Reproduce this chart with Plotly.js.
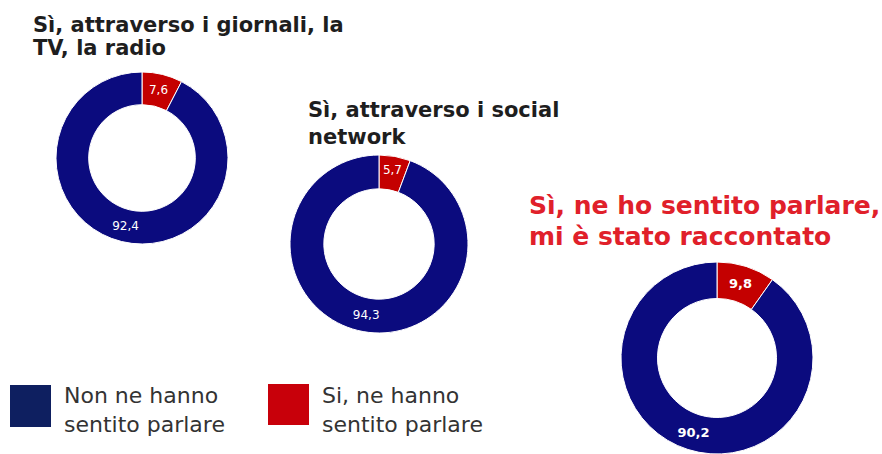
<!DOCTYPE html>
<html>
<head>
<meta charset="utf-8">
<script src="https://cdn.plot.ly/plotly-3.0.1.min.js"></script>
<style>html,body{margin:0;padding:0;background:#fff;}#chart{width:882px;height:454px;}</style>
</head>
<body>
<div id="chart"></div>
<script>
// ---- data ----
const categories = ["Si, ne hanno sentito parlare", "Non ne hanno sentito parlare"];
const siValues = [7.6, 5.7, 9.8];
const nonValues = [92.4, 94.3, 90.2];
const donutTitles = [
  ["Sì, attraverso i giornali, la", "TV, la radio"],
  ["Sì, attraverso i social", "network"],
  ["Sì, ne ho sentito parlare,", "mi è stato raccontato"]
];
const legendLabels = [
  ["Non ne hanno", "sentito parlare"],
  ["Si, ne hanno", "sentito parlare"]
];

// ---- styles / geometry ----
const W = 882, H = 454;
const RED = "#c40000", NAVY = "#0b0b7e";
const legendColors = ["#0e1f60", "#c8000a"];
// donut boxes in pixels: [cx, cy, r]
const donutGeo = [[142, 158, 86], [379, 244, 89], [717, 358, 96]];
const labelFonts = [
  {family: "DejaVu Sans", size: 12, color: "#ffffff"},
  {family: "DejaVu Sans", size: 12, color: "#ffffff"},
  {family: "DejaVu Sans", size: 13, color: "#ffffff", weight: "bold"}
];
const titleGeo = [[31, 25, 48], [306, 110, 137], [527, 205, 236]];
const titleFonts = [
  {family: "DejaVu Sans", size: 21, color: "#1e1e1e", weight: "bold"},
  {family: "DejaVu Sans", size: 21, color: "#1e1e1e", weight: "bold"},
  {family: "DejaVu Sans", size: 25, color: "#e0202a", weight: "bold"}
];

const px = x => x / W;
const py = y => 1 - y / H;

const traces = siValues.map((si, i) => {
  const [cx, cy, r] = donutGeo[i];
  return {
    type: "pie",
    labels: categories,
    values: [si, nonValues[i]],
    sort: false,
    direction: "clockwise",
    rotation: 0,
    hole: 0.62,
    marker: {colors: [RED, NAVY], line: {color: "#ffffff", width: 1}},
    texttemplate: "%{value:.1f}",
    textposition: "inside",
    insidetextorientation: "horizontal",
    insidetextfont: labelFonts[i],
    hoverinfo: "none",
    showlegend: false,
    domain: {x: [px(cx - r), px(cx + r)], y: [Math.max(0, py(cy + r)), Math.min(1, py(cy - r))]}
  };
});

const annotations = [];
donutTitles.forEach((lines, i) => {
  const [x, y1, y2] = titleGeo[i];
  [y1, y2].forEach((y, j) => {
    annotations.push({
      text: lines[j], x: px(x), y: py(y), xref: "paper", yref: "paper",
      xanchor: "left", yanchor: "middle", showarrow: false, font: titleFonts[i]
    });
  });
});
const legendTextX = [62, 320];
legendLabels.forEach((lines, i) => {
  annotations.push({
    text: lines.join("<br>"), x: px(legendTextX[i]), y: py(410), xref: "paper", yref: "paper",
    xanchor: "left", yanchor: "middle", align: "left", showarrow: false,
    font: {family: "DejaVu Sans", size: 22, color: "#333333"}
  });
});

const swatches = [[10, 385, 51, 427], [268, 384, 309, 425]];
const shapes = swatches.map((s, i) => ({
  type: "rect", xref: "paper", yref: "paper",
  x0: px(s[0]), x1: px(s[2]), y0: py(s[3]), y1: py(s[1]),
  fillcolor: legendColors[i], line: {width: 0}
}));

const layout = {
  width: W, height: H,
  margin: {l: 0, r: 0, t: 0, b: 0},
  paper_bgcolor: "#ffffff",
  separators: ",.",
  showlegend: false,
  hovermode: false,
  annotations: annotations,
  shapes: shapes
};

Plotly.newPlot("chart", traces, layout, {displayModeBar: false, staticPlot: true});
</script>
</body>
</html>
